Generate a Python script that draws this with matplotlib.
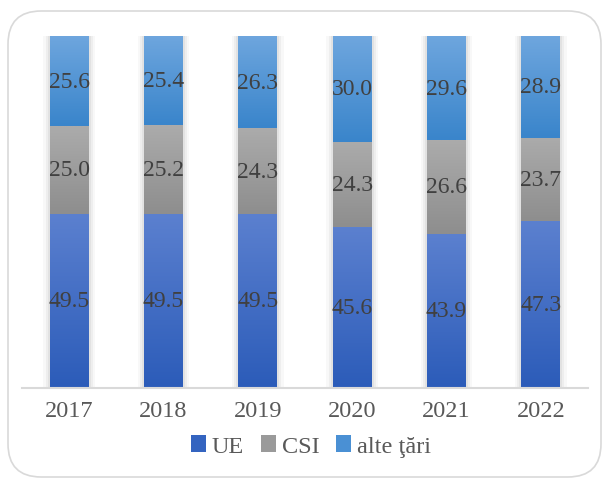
import matplotlib.pyplot as plt
import numpy as np
from matplotlib.colors import LinearSegmentedColormap
from matplotlib.patches import FancyBboxPatch, Patch

years = ['2017', '2018', '2019', '2020', '2021', '2022']
ue = [49.5, 49.5, 49.5, 45.6, 43.9, 47.3]
csi = [25.0, 25.2, 24.3, 24.3, 26.6, 23.7]
alte = [25.6, 25.4, 26.3, 30.0, 29.6, 28.9]
labels = ['UE', 'CSI', 'alte ţări']

# gradient (top, bottom) per series, like the excel fill
grads = [('#5b80cf', '#2c5cb9'), ('#ababab', '#8e8e8e'), ('#6ea6de', '#3a85cb')]
solid = ['#3464c0', '#9a9a9a', '#4a90d4']

plt.rcParams['font.family'] = ['Liberation Serif', 'DejaVu Serif']

fig = plt.figure(figsize=(6.03, 4.81), dpi=100)
ax = fig.add_axes([22/603, 1-389/481, 566/603, 352/481])

# rounded frame round the chart
frame = FancyBboxPatch((8/603, 3/481), 593/603, 466/481,
                       boxstyle='round,pad=0,rounding_size=0.055',
                       transform=fig.transFigure, facecolor='none',
                       edgecolor='#d9d9d9', linewidth=1.2, mutation_aspect=603/481)
fig.patches.append(frame)

data = np.array([ue, csi, alte])
pct = data / data.sum(axis=0) * 100
x = np.arange(len(years))
w = 0.41

# soft shadow behind the bars
for k, a in [(0.14, 0.05), (0.09, 0.08), (0.045, 0.1)]:
    ax.bar(x, 100.6, width=w + k, color='gray', alpha=a, linewidth=0, zorder=1)

bottom = np.zeros(len(years))
for i in range(3):
    bars = ax.bar(x, pct[i], width=w, bottom=bottom, color=solid[i], linewidth=0, zorder=2)
    cmap = LinearSegmentedColormap.from_list('g%d' % i, [grads[i][1], grads[i][0]])
    for b in bars:
        x0, y0 = b.get_x(), b.get_y()
        im = ax.imshow(np.linspace(0, 1, 64).reshape(-1, 1), cmap=cmap, origin='lower',
                       extent=[x0, x0 + b.get_width(), y0, y0 + b.get_height()],
                       aspect='auto', zorder=3)
        im.set_clip_path(b)
    for j in range(len(years)):
        ax.text(x[j], bottom[j] + pct[i][j] / 2, '%.1f' % data[i][j], ha='center', va='center',
                fontsize=17, color='#404040', zorder=4)
    bottom += pct[i]

ax.set_xlim(-0.5, len(years) - 0.5)
ax.set_ylim(0, 100)
ax.set_xticks(x)
ax.set_xticklabels(years, fontsize=17.5, color='#595959')
ax.tick_params(axis='x', length=0, pad=9)
ax.set_yticks([])
for s in ['top', 'right', 'left']:
    ax.spines[s].set_visible(False)
ax.spines['bottom'].set_color('#d9d9d9')
ax.spines['bottom'].set_linewidth(1.5)
ax.spines['bottom'].set_zorder(5)

handles = [Patch(facecolor=solid[i], label=labels[i]) for i in range(3)]
leg = fig.legend(handles=handles, loc='center', bbox_to_anchor=(311/603, 1-447/481), ncol=3,
                 frameon=False, fontsize=17.5, handlelength=0.6, handleheight=0.7,
                 handletextpad=0.25, columnspacing=0.7, labelcolor='#595959')

fig.savefig('out.png', dpi=100)
